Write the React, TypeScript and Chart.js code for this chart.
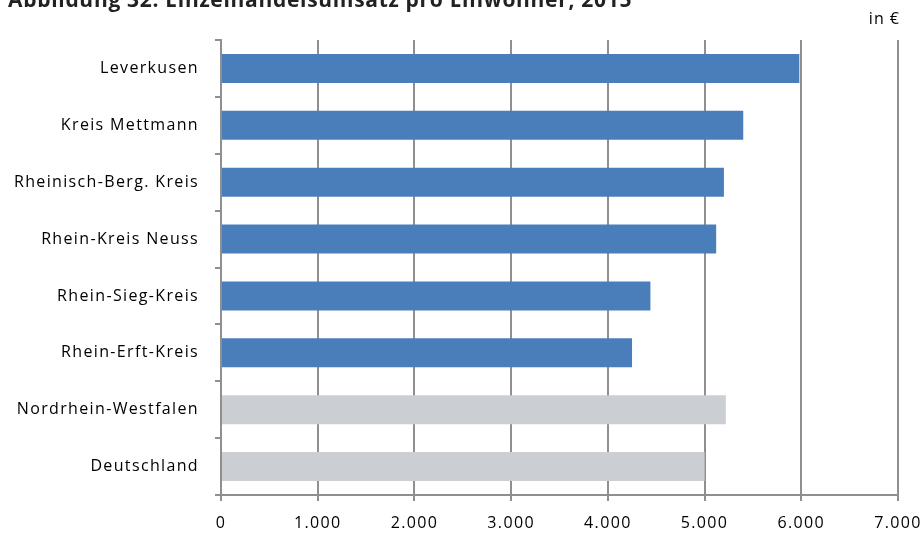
import React, { useEffect, useRef } from "react";
import { Chart, registerables } from "chart.js";

Chart.register(...registerables);

const TITLE = "Abbildung 32: Einzelhandelsumsatz pro Einwohner, 2015";
const UNIT = "in €";
const categories = [
  "Leverkusen",
  "Kreis Mettmann",
  "Rheinisch-Berg. Kreis",
  "Rhein-Kreis Neuss",
  "Rhein-Sieg-Kreis",
  "Rhein-Erft-Kreis",
  "Nordrhein-Westfalen",
  "Deutschland",
];
const values = [5980, 5400, 5200, 5120, 4440, 4250, 5220, 5000];
const barColors = [
  "#4a7ebb",
  "#4a7ebb",
  "#4a7ebb",
  "#4a7ebb",
  "#4a7ebb",
  "#4a7ebb",
  "#cbced3",
  "#cbced3",
];
const xMin = 0;
const xMax = 7000;
const xStep = 1000;

const FONT = "'Open Sans', Lato, sans-serif";
const GRID = "#8f8f8f";

function fmt(v: number): string {
  const s = Math.round(v).toString();
  return s.replace(/\B(?=(\d{3})+(?!\d))/g, ".");
}

const textPlugin = {
  id: "extraText",
  beforeDraw(chart: any) {
    chart.ctx.letterSpacing = "1.35px";
  },
  afterDraw(chart: any) {
    const ctx = chart.ctx;
    ctx.save();
    ctx.letterSpacing = "0.7px";
    ctx.fillStyle = "#222222";
    ctx.font = `bold 21px ${FONT}`;
    ctx.textAlign = "left";
    ctx.textBaseline = "alphabetic";
    ctx.fillText(TITLE, 8, 7);
    ctx.letterSpacing = "1px";
    ctx.fillStyle = "#000000";
    ctx.font = `16px ${FONT}`;
    ctx.textAlign = "right";
    ctx.textBaseline = "middle";
    ctx.fillText(UNIT, 900, 19);
    ctx.restore();
    ctx.letterSpacing = "0px";
  },
};

export default function App() {
  const ref = useRef<HTMLCanvasElement>(null);
  useEffect(() => {
    document.body.style.margin = "0";
    const chart = new Chart(ref.current!, {
      type: "bar",
      data: {
        labels: categories,
        datasets: [
          {
            data: values,
            backgroundColor: barColors,
            borderWidth: 0,
            barPercentage: 0.51,
            categoryPercentage: 1,
          },
        ],
      },
      options: {
        indexAxis: "y",
        animation: false,
        responsive: false,
        layout: { autoPadding: false, padding: { top: 40, right: 25, left: 0, bottom: 0 } },
        plugins: { legend: { display: false }, tooltip: { enabled: false } },
        scales: {
          x: {
            min: xMin,
            max: xMax,
            ticks: {
              stepSize: xStep,
              color: "#000",
              font: { family: FONT, size: 16 },
              padding: 13,
              callback: (v: any) => fmt(Number(v)),
            },
            grid: { color: GRID, lineWidth: 2, tickLength: 6 },
            border: { color: GRID, width: 2 },
            afterFit: (s: any) => {
              s.height = 41;
              s.paddingRight = 0;
              s.paddingLeft = 0;
            },
          },
          y: {
            ticks: {
              color: "#000",
              font: { family: FONT, size: 16 },
              padding: 16,
            },
            grid: {
              offset: true,
              drawOnChartArea: false,
              color: GRID,
              lineWidth: 2,
              tickLength: 6,
            },
            border: { color: GRID, width: 2 },
            afterFit: (s: any) => {
              s.width = 221;
              s.paddingTop = 0;
              s.paddingBottom = 0;
            },
          },
        },
      },
      plugins: [textPlugin],
    });
    return () => chart.destroy();
  }, []);
  return (
    <div style={{ width: 923, height: 536, position: "relative", background: "#fff" }}>
      <canvas ref={ref} width={923} height={536} />
    </div>
  );
}
